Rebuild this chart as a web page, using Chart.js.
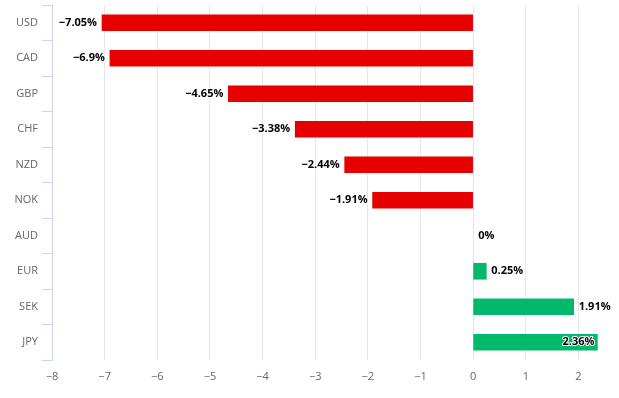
<!DOCTYPE html>
<html><head><meta charset="utf-8">
<script src="https://cdn.jsdelivr.net/npm/chart.js@4/dist/chart.umd.min.js"></script>
<style>html,body{margin:0;padding:0;background:#fff}#wrap{width:619px;height:398px}</style>
</head><body><div id="wrap"><canvas id="c"></canvas></div>
<script>
const categories = ['USD','CAD','GBP','CHF','NZD','NOK','AUD','EUR','SEK','JPY'];
const values = [-7.05, -6.9, -4.65, -3.38, -2.44, -1.91, 0, 0.25, 1.91, 2.36];
const xTicks = [-8,-7,-6,-5,-4,-3,-2,-1,0,1,2];
const RED = '#e60000', GREEN = '#00b96b';
const FONT = '"Open Sans", "DejaVu Sans", sans-serif';

const labelPlugin = {
  id: 'vlabels',
  afterDatasetsDraw(chart) {
    const ctx = chart.ctx;
    const meta = chart.getDatasetMeta(0);
    ctx.save();
    ctx.font = 'bold 11px ' + FONT;
    ctx.textBaseline = 'middle';
    ctx.lineJoin = 'round';
    meta.data.forEach((bar, i) => {
      const v = values[i];
      const txt = (v < 0 ? '\u2212' : '') + Math.abs(v) + '%';
      const w = ctx.measureText(txt).width;
      let x, align;
      if (v < 0) { x = bar.x - 5; align = 'right'; }
      else {
        x = bar.x + 5; align = 'left';
        if (x + w > chart.width - 2) { x = bar.x - 3; align = 'right'; }
      }
      ctx.textAlign = align;
      ctx.strokeStyle = '#fff'; ctx.lineWidth = 2;
      ctx.strokeText(txt, x, bar.y);
      ctx.fillStyle = '#000';
      ctx.fillText(txt, x, bar.y);
    });
    ctx.restore();
  }
};

new Chart(document.getElementById('c'), {
  type: 'bar',
  data: {
    labels: categories,
    datasets: [{
      data: values,
      backgroundColor: values.map(v => v < 0 ? RED : (v > 0 ? GREEN : 'rgba(0,0,0,0)')),
      barThickness: 16,
      borderWidth: 0
    }]
  },
  options: {
    indexAxis: 'y',
    responsive: true,
    maintainAspectRatio: false,
    animation: false,
    layout: { padding: { top: 5, right: 9, bottom: 0, left: 0 } },
    plugins: { legend: { display: false }, tooltip: { enabled: false } },
    scales: {
      x: {
        min: -8, max: 2.6,
        afterBuildTicks: s => { s.ticks = xTicks.map(v => ({ value: v })); },
        afterFit: s => { s.height = 38; },
        grid: { color: '#e6e6e6', drawTicks: false, lineWidth: 1 },
        border: { display: false },
        ticks: {
          padding: 10, color: '#666', font: { family: FONT, size: 11 },
          callback: v => (v < 0 ? '\u2212' + Math.abs(v) : String(v))
        }
      },
      y: {
        afterFit: s => { s.width = 52; s.paddingTop = 0; s.paddingBottom = 0; },
        grid: { offset: true, drawOnChartArea: false, drawTicks: true, tickLength: 10, color: '#ccd6eb' },
        border: { display: true, color: '#ccd6eb' },
        ticks: { padding: 4, color: '#666', font: { family: FONT, size: 11 } }
      }
    }
  },
  plugins: [labelPlugin]
});
</script></body></html>
